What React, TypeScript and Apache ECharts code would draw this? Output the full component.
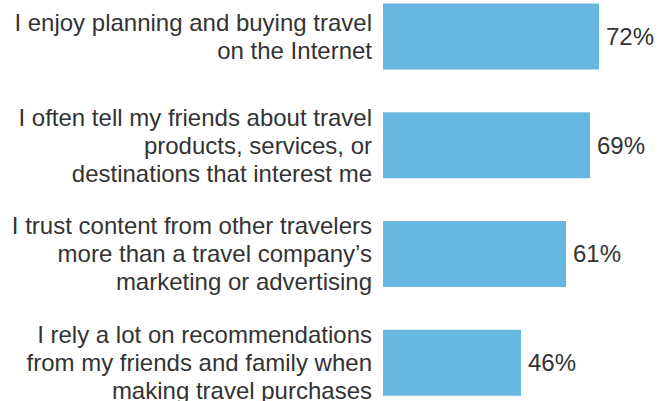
import React, { useEffect, useRef } from "react";
import * as echarts from "echarts";

const categories: string[] = [
  "I enjoy planning and buying travel\non the Internet",
  "I often tell my friends about travel\nproducts, services, or\ndestinations that interest me",
  "I trust content from other travelers\nmore than a travel company\u2019s\nmarketing or advertising",
  "I rely a lot on recommendations\nfrom my friends and family when\nmaking travel purchases",
];
const values: number[] = [72, 69, 61, 46];

export default function App() {
  const ref = useRef<HTMLDivElement>(null);
  useEffect(() => {
    if (!ref.current) return;
    const chart = echarts.init(ref.current, undefined, { renderer: "svg" });
    const font = "'Liberation Sans', Arial, sans-serif";
    chart.setOption({
      animation: false,
      grid: { left: 383, right: 17, top: 0, bottom: 0, containLabel: false },
      xAxis: {
        type: "value",
        min: 0,
        max: 90,
        show: false,
      },
      yAxis: {
        type: "category",
        inverse: true,
        data: categories,
        axisLine: { show: false },
        axisTick: { show: false },
        splitLine: { show: false },
        axisLabel: {
          margin: 11,
          fontSize: 24,
          lineHeight: 28,
          color: "#333333",
          fontFamily: font,
          align: "right",
        },
      },
      series: [
        {
          type: "bar",
          data: values,
          barWidth: 66,
          itemStyle: { color: "#66B8E1" },
          label: {
            show: true,
            position: "right",
            distance: 7,
            formatter: "{c}%",
            fontSize: 24,
            color: "#333333",
            fontFamily: font,
          },
        },
      ],
    });
    return () => chart.dispose();
  }, []);
  return (
    <div style={{ position: "absolute", left: 0, top: 0, width: 670, height: 401, overflow: "hidden", background: "#ffffff" }}>
      <div
        ref={ref}
        style={{ position: "absolute", left: 0, top: -18, width: 670, height: 435 }}
      />
    </div>
  );
}
